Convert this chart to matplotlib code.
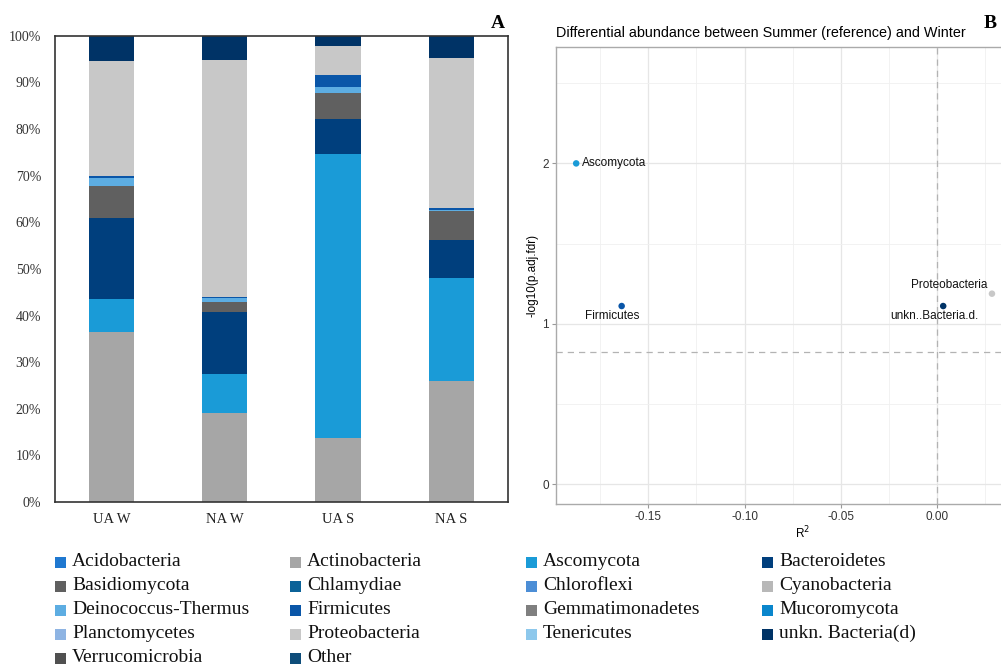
import matplotlib
matplotlib.use("Agg")
import matplotlib.pyplot as plt
import numpy as np
from matplotlib.patches import Rectangle
from matplotlib.ticker import MultipleLocator, FuncFormatter

plt.rcParams['axes.unicode_minus'] = False

# ---- panel A data (percent, stacked bottom -> top) ----
samples = ['UA W', 'NA W', 'UA S', 'NA S']
phyla = ['Acidobacteria', 'Actinobacteria', 'Ascomycota', 'Bacteroidetes',
         'Basidiomycota', 'Chlamydiae', 'Chloroflexi', 'Cyanobacteria',
         'Deinococcus-Thermus', 'Firmicutes', 'Gemmatimonadetes', 'Mucoromycota',
         'Planctomycetes', 'Proteobacteria', 'Tenericutes', 'unkn. Bacteria(d)',
         'Verrucomicrobia', 'Other']
colors = ['#1f78d0', '#a6a6a6', '#1a9bd7', '#003f7d',
          '#606060', '#0b6298', '#4c8ed6', '#b8b8b8',
          '#5dade2', '#0a56a8', '#7f7f7f', '#0a86cc',
          '#8eb4e3', '#c8c8c8', '#8dc8ec', '#003366',
          '#505050', '#0e4d7a']
abund = {
    'Acidobacteria':       [0.0, 0.0, 0.0, 0.0],
    'Actinobacteria':      [36.5, 19.2, 13.7, 26.0],
    'Ascomycota':          [7.0, 8.3, 60.9, 22.1],
    'Bacteroidetes':       [17.4, 13.2, 7.5, 8.1],
    'Basidiomycota':       [6.8, 2.3, 5.6, 6.3],
    'Chlamydiae':          [0.0, 0.0, 0.0, 0.0],
    'Chloroflexi':         [0.0, 0.0, 0.0, 0.0],
    'Cyanobacteria':       [0.0, 0.0, 0.0, 0.0],
    'Deinococcus-Thermus': [1.9, 0.7, 1.4, 0.2],
    'Firmicutes':          [0.3, 0.3, 2.6, 0.4],
    'Gemmatimonadetes':    [0.0, 0.0, 0.0, 0.0],
    'Mucoromycota':        [0.0, 0.0, 0.0, 0.0],
    'Planctomycetes':      [0.0, 0.0, 0.0, 0.0],
    'Proteobacteria':      [24.7, 50.8, 6.2, 32.1],
    'Tenericutes':         [0.0, 0.0, 0.0, 0.0],
    'unkn. Bacteria(d)':   [5.4, 5.2, 2.1, 4.8],
    'Verrucomicrobia':     [0.0, 0.0, 0.0, 0.0],
    'Other':               [0.0, 0.0, 0.0, 0.0],
}

# ---- panel B data ----
da_names = ['Ascomycota', 'Firmicutes', 'unkn..Bacteria.d.', 'Proteobacteria']
da_r2 = [-0.1874, -0.1638, 0.0031, 0.0284]
da_logp = [2.0, 1.111, 1.111, 1.188]
da_cols = ['#1a9bd7', '#0a56a8', '#003366', '#c8c8c8']
fdr_cut = 0.824

fig = plt.figure(figsize=(10.01, 6.66), dpi=100)
serif = 'Liberation Serif'
sans = 'Liberation Sans'

# ================= panel A =================
axA = fig.add_axes([0.0549, 0.2462, 0.4525, 0.700])
x = np.arange(len(samples))
bottom = np.zeros(len(samples))
for name, col in zip(phyla, colors):
    vals = np.array(abund[name])
    axA.bar(x, vals, bottom=bottom, width=0.4, color=col, edgecolor='none')
    bottom += vals
axA.set_xlim(-0.5, 3.5)
axA.set_ylim(0, 100)
axA.set_yticks(np.arange(0, 101, 10))
axA.set_yticklabels([f'{v}%' for v in range(0, 101, 10)], fontfamily=serif, fontsize=10, color='#333333')
axA.set_xticks(x)
axA.set_xticklabels(samples, fontfamily=serif, fontsize=10.5, color='#222222')
axA.tick_params(length=0, pad=8)
axA.tick_params(axis='y', pad=10)
for s in axA.spines.values():
    s.set_color('#333333')
    s.set_linewidth(1.2)
fig.text(0.497, 0.965, 'A', fontfamily=serif, fontweight='bold', fontsize=14, ha='center', va='center')

# ================= panel B =================
axB = fig.add_axes([0.5554, 0.2432, 0.4935, 0.6866])
axB.set_xlim(-0.1979, 0.0585)
axB.set_ylim(-0.123, 2.727)
axB.set_xticks([-0.15, -0.10, -0.05, 0.00])
axB.xaxis.set_minor_locator(MultipleLocator(0.05, offset=0.025))
axB.yaxis.set_major_locator(MultipleLocator(1))
axB.yaxis.set_minor_locator(MultipleLocator(1, offset=0.5))
axB.xaxis.set_major_formatter(FuncFormatter(lambda v, p: f'{v:.2f}'))
axB.yaxis.set_major_formatter(FuncFormatter(lambda v, p: f'{v:.0f}'))
axB.grid(which='major', color='#e6e6e6', lw=0.9)
axB.grid(which='minor', color='#f0f0f0', lw=0.6)
axB.set_axisbelow(True)
axB.tick_params(which='major', length=3, color='#999999', labelsize=8.5, labelcolor='#333333', pad=2)
axB.tick_params(which='minor', length=0)
for lab in axB.get_xticklabels() + axB.get_yticklabels():
    lab.set_fontfamily(sans)
for s in axB.spines.values():
    s.set_color('#aaaaaa')
    s.set_linewidth(1.0)
axB.axhline(fdr_cut, color='#b3b3b3', lw=0.9, ls=(0, (5, 4)))
axB.axvline(0, color='#b3b3b3', lw=0.9, ls=(0, (5, 4)))
axB.scatter(da_r2, da_logp, c=da_cols, s=22, zorder=3, edgecolors='none')

offsets = [(4, 0, 'left'), (-7, -7.4, 'center'),
           (-6.7, -7.4, 'center'), (-30.6, 6.3, 'center')]
for n, xv, yv, (dx, dy, ha) in zip(da_names, da_r2, da_logp, offsets):
    axB.annotate(n, (xv, yv), xytext=(dx, dy), textcoords='offset points',
                 ha=ha, va='center', fontsize=8.5, fontfamily=sans, color='#111111')

axB.set_title('Differential abundance between Summer (reference) and Winter',
              loc='left', fontsize=10.35, fontfamily=sans, pad=7)
axB.set_xlabel('R$^2$', fontsize=8.5, fontfamily=sans, labelpad=1)
axB.set_ylabel('-log10(p.adj.fdr)', fontsize=8.5, fontfamily=sans, labelpad=3)
fig.text(0.989, 0.965, 'B', fontfamily=serif, fontweight='bold', fontsize=14, ha='center', va='center')

# ================= legend (row-major, 4 columns) =================
col_x = [55, 290, 526, 762]
row_y = [562, 586, 610, 634, 658]
W, H = 1001.0, 666.0
for i, (name, col) in enumerate(zip(phyla, colors)):
    r, c = divmod(i, 4)
    px, py = col_x[c], row_y[r]
    fig.add_artist(Rectangle((px / W, (H - py - 5.5) / H), 11 / W, 11 / H,
                             transform=fig.transFigure, color=col, lw=0))
    fig.text((px + 17) / W, (H - py + 1) / H, name, fontfamily=serif, fontsize=14,
             va='center', ha='left', color='#111111')

fig.savefig('out.png', dpi=100)
